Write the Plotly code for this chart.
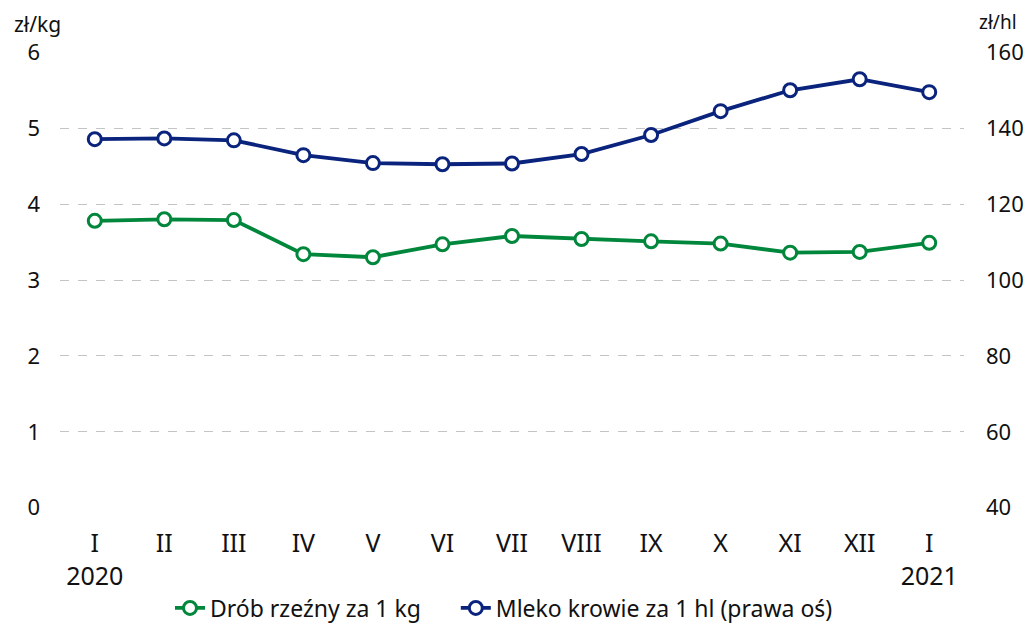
import plotly.graph_objects as go

months = ["I", "II", "III", "IV", "V", "VI", "VII", "VIII", "IX", "X", "XI", "XII", "I "]
tick_text = ["I<br>2020", "II", "III", "IV", "V", "VI", "VII", "VIII", "IX", "X", "XI", "XII", "I<br>2021"]
drob = [3.78, 3.80, 3.79, 3.34, 3.30, 3.47, 3.58, 3.54, 3.51, 3.48, 3.36, 3.37, 3.49]
mleko = [137.1, 137.3, 136.8, 132.9, 130.8, 130.5, 130.7, 133.2, 138.2, 144.5, 150.0, 152.9, 149.5]
left_ticks = [0, 1, 2, 3, 4, 5, 6]
right_ticks = [40, 60, 80, 100, 120, 140, 160]

GREEN = "#00873c"
NAVY = "#0a237c"
FONT = "Noto Sans"
NB = "\u00a0"

fig = go.Figure()
fig.add_trace(go.Scatter(
    x=months, y=drob, name="Drób rzeźny za 1 kg" + NB * 5, mode="lines+markers",
    line=dict(color=GREEN, width=3.8),
    marker=dict(symbol="circle", size=13, color="white", line=dict(color=GREEN, width=3)),
    yaxis="y"))
fig.add_trace(go.Scatter(
    x=months, y=mleko, name="Mleko krowie za 1 hl (prawa oś)", mode="lines+markers",
    line=dict(color=NAVY, width=3.8),
    marker=dict(symbol="circle", size=13, color="white", line=dict(color=NAVY, width=3)),
    yaxis="y2"))

W, H = 1026, 623
fig.update_layout(
    width=W, height=H,
    margin=dict(l=60, r=62, t=52, b=115, autoexpand=False),
    paper_bgcolor="white", plot_bgcolor="white",
    font=dict(family=FONT, size=22, color="#111111"),
    showlegend=True,
    legend=dict(orientation="h", xref="container", yref="container",
                x=170 / W, xanchor="left", y=15 / H, yanchor="middle",
                font=dict(size=23), tracegroupgap=0),
    xaxis=dict(type="category", categoryorder="array", categoryarray=months,
               tickvals=months, ticktext=tick_text, range=[-0.5, 12.5],
               showgrid=False, zeroline=False, showline=False, ticks="",
               tickfont=dict(size=25), ticklabelstandoff=18, automargin=False),
    yaxis=dict(range=[-0.004, 6.004], tickvals=left_ticks, showgrid=True,
               gridcolor="#c4c4c4", griddash="dash", gridwidth=1,
               zeroline=False, showline=False, ticks="", ticklabelstandoff=19,
               automargin=False),
    yaxis2=dict(range=[40 - 0.08, 160.08], tickvals=right_ticks, overlaying="y", side="right",
                showgrid=False, zeroline=False, showline=False, ticks="",
                ticklabelstandoff=21, automargin=False),
)
fig.add_annotation(text="zł/kg", xref="paper", yref="paper", x=-0.053, y=1.0, yshift=28,
                   xanchor="left", yanchor="middle", showarrow=False, font=dict(size=21))
fig.add_annotation(text="zł/hl", xref="paper", yref="paper", x=1.0, y=1.0, xshift=13, yshift=30,
                   xanchor="left", yanchor="middle", showarrow=False, font=dict(size=19))

fig.write_html("out.html", config={"displayModeBar": False},
               post_script="document.body.style.margin='0';document.body.style.overflow='hidden';")
